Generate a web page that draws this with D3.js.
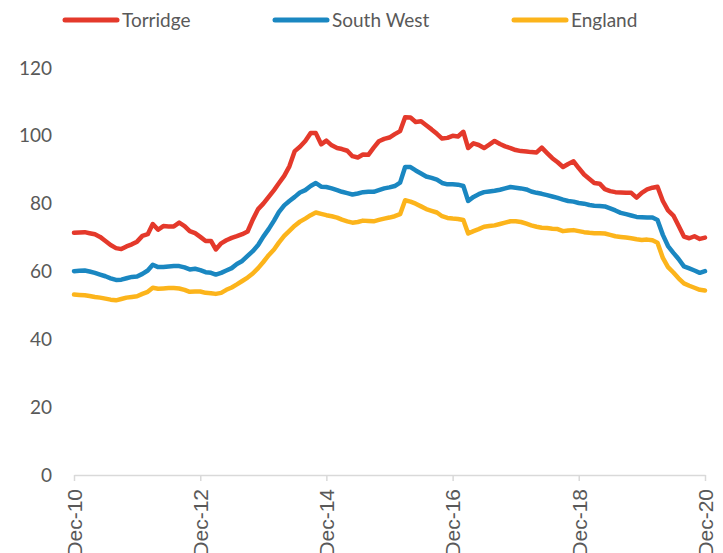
<!DOCTYPE html>
<html>
<head>
<meta charset="utf-8">
<script src="https://cdn.jsdelivr.net/npm/d3@7"></script>
<style>
  body { margin: 0; background: #fff; }
  svg { display: block; }
</style>
</head>
<body>
<svg id="chart" width="723" height="553"></svg>
<script>
// monthly, Dec-10 .. Dec-20
var startMonth = new Date(2010, 11, 1),
    endMonth = new Date(2020, 11, 1);

var seriesNames = ["Torridge", "South West", "England"];
var seriesColors = ["#e4392b", "#1a87c1", "#fcb41b"];

var torridge = [
  71.4, 71.5, 71.6, 71.3, 71.0, 70.2, 69.0, 67.8, 66.9, 66.6, 67.4, 68.0,
  68.8, 70.5, 71.0, 74.0, 72.3, 73.4, 73.3, 73.3, 74.4, 73.4, 71.9, 71.3,
  70.2, 69.0, 69.0, 66.5, 68.3, 69.2, 69.9, 70.4, 71.0, 71.8, 75.3, 78.4,
  80.0, 82.0, 84.0, 86.0, 88.2, 91.0, 95.5, 96.8, 98.5, 100.8, 100.8, 97.5,
  98.6, 97.2, 96.4, 96.1, 95.6, 94.0, 93.6, 94.5, 94.4, 96.5, 98.4, 99.1,
  99.5, 100.5, 101.4, 105.5, 105.4, 104.1, 104.3, 103.1, 101.9, 100.6, 99.2, 99.4,
  100.0, 99.8, 101.2, 96.4, 97.8, 97.3, 96.4, 97.4, 98.5, 97.6, 96.9, 96.4,
  95.8, 95.5, 95.4, 95.2, 95.1, 96.5, 94.9, 93.4, 92.2, 90.8, 91.7, 92.5,
  90.5, 88.6, 87.3, 86.1, 85.9, 84.3, 83.7, 83.4, 83.3, 83.2, 83.2, 81.8,
  83.2, 84.2, 84.7, 85.0, 80.8, 78.0, 76.5, 73.5, 70.3, 69.8, 70.4, 69.6,
  70.0
];

var southWest = [
  60.1, 60.2, 60.3, 60.0, 59.6, 59.1, 58.6, 58.0, 57.5, 57.6, 58.0, 58.4,
  58.5, 59.3, 60.3, 62.0, 61.3, 61.3, 61.5, 61.6, 61.6, 61.2, 60.6, 60.8,
  60.4, 59.8, 59.6, 59.1, 59.6, 60.3, 61.0, 62.2, 63.1, 64.6, 66.0, 67.8,
  70.3, 72.5, 75.0, 77.5, 79.5, 80.8, 82.0, 83.3, 84.0, 85.2, 86.1, 85.0,
  84.9, 84.5, 84.0, 83.5, 83.1, 82.7, 83.0, 83.4, 83.5, 83.5, 84.0, 84.5,
  84.8, 85.2, 86.2, 90.8, 90.8, 89.8, 88.9, 88.0, 87.6, 87.1, 86.1, 85.7,
  85.7, 85.6, 85.2, 80.8, 82.0, 82.8, 83.4, 83.6, 83.8, 84.1, 84.5, 84.9,
  84.7, 84.5, 84.2, 83.6, 83.2, 82.9, 82.5, 82.1, 81.7, 81.2, 80.8, 80.6,
  80.2, 80.0, 79.6, 79.4, 79.3, 79.2, 78.6, 78.0, 77.3, 76.9, 76.5, 76.1,
  76.0, 75.9, 75.9, 75.2, 70.8, 67.5, 65.5, 63.7, 61.5, 60.9, 60.3, 59.6,
  60.1
];

var england = [
  53.2, 53.1, 53.0, 52.8, 52.5, 52.3, 52.0, 51.7, 51.5, 51.9, 52.3, 52.5,
  52.7, 53.4, 54.0, 55.2, 54.9, 55.0, 55.1, 55.1, 55.0, 54.6, 54.0, 54.1,
  54.1, 53.7, 53.6, 53.4, 53.7, 54.6, 55.3, 56.2, 57.2, 58.2, 59.4, 61.0,
  62.8, 64.8, 66.5, 68.5, 70.5, 72.0, 73.5, 74.7, 75.6, 76.6, 77.4, 77.0,
  76.6, 76.3, 75.9, 75.3, 74.8, 74.4, 74.6, 75.0, 74.9, 74.8, 75.2, 75.6,
  75.9, 76.3, 76.9, 81.0, 80.6, 80.0, 79.2, 78.4, 77.9, 77.4, 76.3, 75.8,
  75.6, 75.5, 75.2, 71.2, 71.9, 72.5, 73.2, 73.4, 73.6, 74.0, 74.4, 74.8,
  74.8, 74.6, 74.1, 73.6, 73.2, 72.9, 72.8, 72.6, 72.5, 71.9, 72.1, 72.2,
  71.9, 71.6, 71.4, 71.3, 71.3, 71.2, 70.8, 70.4, 70.2, 70.0, 69.8, 69.5,
  69.3, 69.4, 69.2, 68.5, 64.0, 61.3, 59.7, 58.0, 56.5, 55.8, 55.2, 54.6,
  54.4
];

var yTicks = [0, 20, 40, 60, 80, 100, 120];
var xTickLabels = ["Dec-10", "Dec-12", "Dec-14", "Dec-16", "Dec-18", "Dec-20"];

var months = d3.timeMonth.range(startMonth, d3.timeMonth.offset(endMonth, 1));
var allSeries = [torridge, southWest, england];

var svg = d3.select("#chart");

var x = d3.scaleTime()
    .domain([startMonth, endMonth])
    .range([74, 705]);

var y = d3.scaleLinear()
    .domain([0, 120])
    .range([475, 68]);

var xTickDates = xTickLabels.map(function(s) { return d3.timeParse("%b-%y")(s); });

// x axis
var xAxis = svg.append("g")
    .attr("transform", "translate(0," + y(0) + ")")
    .call(d3.axisBottom(x)
        .tickValues(xTickDates)
        .tickSize(6)
        .tickSizeOuter(0)
        .tickFormat(function(d, i) { return xTickLabels[i]; }));

xAxis.select(".domain").attr("stroke", "#d9d9d9").attr("stroke-width", 1.5);
xAxis.selectAll(".tick line").attr("stroke", "#d9d9d9").attr("stroke-width", 1.5);
xAxis.selectAll(".tick text")
    .attr("fill", "#595959")
    .style("font-family", "'Liberation Sans', Arial, sans-serif")
    .style("font-size", "21px")
    .attr("text-anchor", "end")
    .attr("transform", "rotate(-90)")
    .attr("x", -14)
    .attr("y", 0)
    .attr("dy", "0.35em");

// y axis labels (no line)
var yAxis = svg.append("g")
    .attr("transform", "translate(52,0)")
    .call(d3.axisLeft(y).tickValues(yTicks).tickSize(0).tickPadding(0));

yAxis.select(".domain").remove();
yAxis.selectAll(".tick text")
    .attr("fill", "#595959")
    .style("font-family", "Lato, 'Open Sans', sans-serif")
    .style("font-size", "19px");

// lines
var line = d3.line()
    .x(function(d, i) { return x(months[i]); })
    .y(function(d) { return y(d); });

svg.append("g")
    .selectAll("path")
    .data(allSeries)
    .enter().append("path")
    .attr("d", line)
    .attr("fill", "none")
    .attr("stroke", function(d, i) { return seriesColors[i]; })
    .attr("stroke-width", 4.5)
    .attr("stroke-linejoin", "round")
    .attr("stroke-linecap", "round");

// legend
var legendX = [65, 275, 514];
var legend = svg.append("g")
    .selectAll("g")
    .data(seriesNames)
    .enter().append("g")
    .attr("transform", function(d, i) { return "translate(" + legendX[i] + ",20)"; });

legend.append("line")
    .attr("x1", 0).attr("x2", 52)
    .attr("stroke", function(d, i) { return seriesColors[i]; })
    .attr("stroke-width", 5)
    .attr("stroke-linecap", "round");

legend.append("text")
    .attr("x", 57)
    .attr("dy", "0.35em")
    .attr("fill", "#595959")
    .style("font-family", "Lato, 'Open Sans', sans-serif")
    .style("font-size", "19px")
    .text(function(d) { return d; });
</script>
</body>
</html>
